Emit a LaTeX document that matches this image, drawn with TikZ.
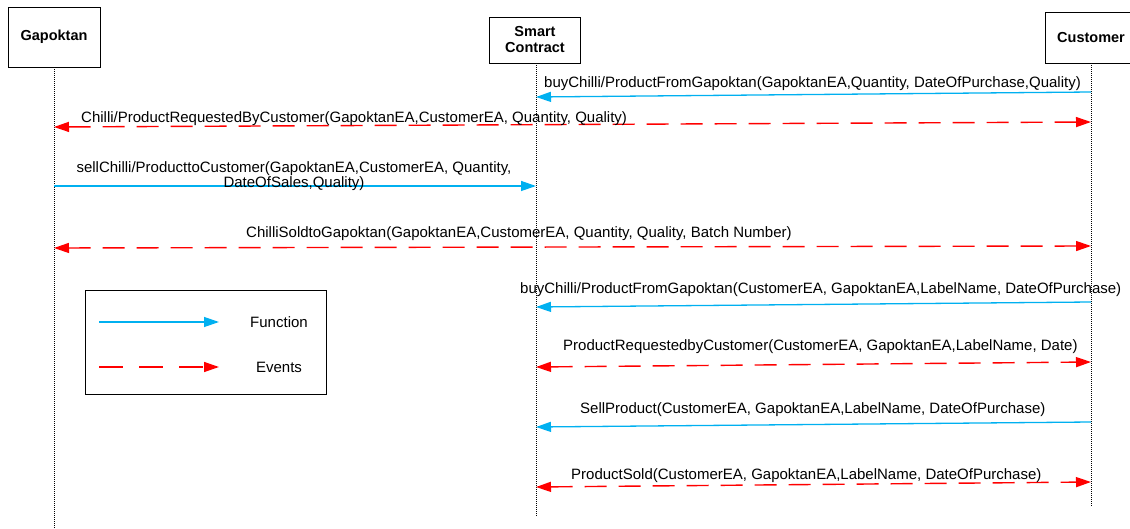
\documentclass[tikz,border=0pt]{standalone}
\usepackage{fontspec}
\setmainfont{Liberation Sans}
\usetikzlibrary{arrows.meta}
\definecolor{fblue}{RGB}{0,176,240}
\begin{document}
\begin{tikzpicture}[x=1pt,y=-1pt,
  actor/.style={draw,line width=0.8pt,font=\fontsize{14.5}{16}\selectfont\bfseries,align=center,inner sep=0pt},
  life/.style={line width=0.5pt,dash pattern=on 1pt off 1pt},
  func/.style={fblue,line width=1.3pt,-{Triangle[length=15pt,width=10pt]}},
  evt/.style={red,line width=1.4pt,dash pattern=on 22pt off 12pt,{Triangle[length=15pt,width=10pt]}-{Triangle[length=15pt,width=10pt]}},
  lbl/.style={font=\fontsize{15}{13}\selectfont,inner sep=0pt,align=center}]
\clip (0,0) rectangle (1130,529);
\useasboundingbox (0,0) rectangle (1130,529);
% actors
\node[actor,minimum width=92pt,minimum height=60pt] (g) at (54,37) {Gapoktan};
\node[actor,minimum width=91pt,minimum height=46pt] (s) at (535,40) {Smart\\Contract};
\node[actor,minimum width=92pt,minimum height=51pt] (c) at (1091,37.5) {Customer};
\coordinate (gend) at (54,529);
\coordinate (send) at (536,517);
\coordinate (cend) at (1091,507);
\draw[life] (g.south) -- (gend);
\draw[life] (s.south -| send) -- (send);
\draw[life] (c.south) -- (cend);
% message end points
\coordinate (c1) at (1091,92);  \coordinate (s1) at (536,97);
\coordinate (g2) at (54,127);   \coordinate (c2) at (1091,122);
\coordinate (g3) at (54,186);   \coordinate (s3) at (536,186);
\coordinate (g4) at (54,248);   \coordinate (c4) at (1091,246);
\coordinate (c5) at (1091,302); \coordinate (s5) at (536,307);
\coordinate (s6) at (536,367);  \coordinate (c6) at (1091,362);
\coordinate (c7) at (1091,422); \coordinate (s7) at (536,427);
\coordinate (s8) at (536,487);  \coordinate (c8) at (1091,482);
% messages
\draw[func] (c1) -- (s1);
\draw[evt] (g2) -- (c2);
\draw[func] (g3) -- (s3);
\draw[evt] (g4) -- (c4);
\draw[func] (c5) -- (s5);
\draw[evt] (s6) -- (c6);
\draw[func] (c7) -- (s7);
\draw[evt] (s8) -- (c8);
% labels
\node[lbl,anchor=base west] (l1) at (544,88) {buyChilli/ProductFromGapoktan(GapoktanEA,Quantity, DateOfPurchase,Quality)};
\node[lbl,anchor=base west] (l2) at (81,123) {Chilli/ProductRequestedByCustomer(GapoktanEA,CustomerEA, Quantity, Quality)};
\node[lbl,anchor=base] (l3) at (294,187.5) {sellChilli/ProducttoCustomer(GapoktanEA,CustomerEA, Quantity,\\DateOfSales,Quality)};
\node[lbl,anchor=base west] (l4) at (246,238) {ChilliSoldtoGapoktan(GapoktanEA,CustomerEA, Quantity, Quality, Batch Number)};
\node[lbl,anchor=base west] (l5) at (520,294) {buyChilli/ProductFromGapoktan(CustomerEA, GapoktanEA,LabelName, DateOfPurchase)};
\node[lbl,anchor=base west] (l6) at (563,351) {ProductRequestedbyCustomer(CustomerEA, GapoktanEA,LabelName, Date)};
\node[lbl,anchor=base west] (l7) at (580,413) {SellProduct(CustomerEA, GapoktanEA,LabelName, DateOfPurchase)};
\node[lbl,anchor=base west] (l8) at (571,479) {ProductSold(CustomerEA, GapoktanEA,LabelName, DateOfPurchase)};
% legend
\node[draw,line width=0.8pt,minimum width=241pt,minimum height=104pt,inner sep=0pt] (leg) at (205.5,342) {};
\coordinate (fa) at (99,322);  \coordinate (fb) at (219,322);
\coordinate (ea) at (99,367);  \coordinate (eb) at (219,367);
\draw[func] (fa) -- (fb);
\draw[red,line width=1.4pt,dash pattern=on 24pt off 16pt,-{Triangle[length=15pt,width=10pt]}] (ea) -- (eb);
\node[lbl] (lf) at (279,322) {Function};
\node[lbl] (le) at (279,367) {Events};
\end{tikzpicture}
\end{document}
